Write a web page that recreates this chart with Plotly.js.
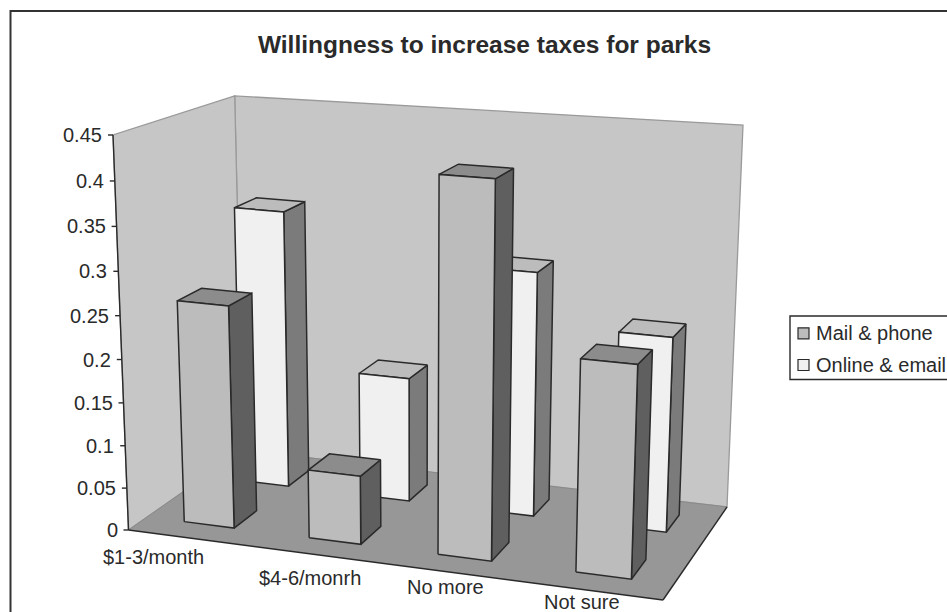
<!DOCTYPE html>
<html>
<head>
<meta charset="utf-8">
<script src="https://cdn.plot.ly/plotly-3.0.1.min.js"></script>
<style>html,body{margin:0;padding:0;background:#fff;overflow:hidden}</style>
</head>
<body>
<div id="chart" style="width:947px;height:612px"></div>
<script>
// Survey results
const categories = ['$1-3/month', '$4-6/monrh', 'No more', 'Not sure'];
const mailPhone = [0.26, 0.08, 0.425, 0.24];
const onlineEmail = [0.335, 0.15, 0.29, 0.23];
const yTicks = [0, 0.05, 0.1, 0.15, 0.2, 0.25, 0.3, 0.35, 0.4, 0.45];
const yTickLabels = ['0', '0.05', '0.1', '0.15', '0.2', '0.25', '0.3', '0.35', '0.4', '0.45'];
const yMax = 0.45;

// Perspective camera: floor homography (unit square to page) plus the vertical vanishing point
const FLOOR = {a: 487.99, b: 142.11, c: 128.5, d: 27.91, e: -28.88, f: 530, g: -0.07015, h: 0.11361};
const VANISH = {x: 417.5, y: 7896, k: -0.1131};

// u runs along the categories, v from front to back of the floor, z is the value
function project(u, v, z) {
  const t = z * VANISH.k;
  const w = FLOOR.g * u + FLOOR.h * v + 1 + t;
  return [
    (FLOOR.a * u + FLOOR.b * v + FLOOR.c + t * VANISH.x) / w,
    (FLOOR.d * u + FLOOR.e * v + FLOOR.f + t * VANISH.y) / w
  ];
}

const INK = '#2a2a2a';
const FONT = 'Liberation Sans, Arial, sans-serif';
const traces = [];

function face(points, fill, line, width) {
  const pts = points.map(p => project(p[0], p[1], p[2]));
  traces.push({
    type: 'scatter', mode: 'lines', fill: 'toself', fillcolor: fill,
    x: pts.map(p => p[0]).concat(pts[0][0]),
    y: pts.map(p => p[1]).concat(pts[0][1]),
    line: {color: line, width: width},
    hoverinfo: 'skip', showlegend: false
  });
}
function edge(a, b, color, width) {
  const pa = project(a[0], a[1], a[2]), pb = project(b[0], b[1], b[2]);
  traces.push({
    type: 'scatter', mode: 'lines', x: [pa[0], pb[0]], y: [pa[1], pb[1]],
    line: {color: color, width: width}, hoverinfo: 'skip', showlegend: false
  });
}

// Walls and floor; the back wall's top edge is trimmed slightly at each end
const WALL = '#c6c6c6', WALL_EDGE = '#9a9a9a';
const TOP_BACK_LEFT = 0.447, TOP_BACK_RIGHT = 0.4535;
face([[0,1,0],[1,1,0],[1,1,TOP_BACK_RIGHT],[0,1,TOP_BACK_LEFT]], WALL, WALL_EDGE, 1.3);
face([[0,0,0],[0,1,0],[0,1,TOP_BACK_LEFT],[0,0,yMax]], WALL, WALL_EDGE, 1.3);
face([[0,0,0],[1,0,0],[1,1,0],[0,1,0]], '#979797', 'rgba(0,0,0,0)', 0);
edge([0,0,0],[0,1,0], '#8a8a8a', 1);
edge([0,1,0],[1,1,0], '#8a8a8a', 1);
edge([0,0,0],[1,0,0], INK, 1.4);
edge([1,0,0],[1,1,0], INK, 1.4);
edge([0,0,0],[0,0,yMax], INK, 1.4);

// One column: right side, top and front, drawn in that order
const HALF_W = 0.05;
const slotNudge = [0, -0.002, -0.005, 0];
function column(index, value, v0, v1, colors) {
  const c = (index + 0.5) / categories.length + slotNudge[index];
  const u0 = c - HALF_W, u1 = c + HALF_W;
  face([[u1,v0,0],[u1,v1,0],[u1,v1,value],[u1,v0,value]], colors.side, INK, 1.5);
  face([[u0,v0,value],[u1,v0,value],[u1,v1,value],[u0,v1,value]], colors.top, INK, 1.5);
  face([[u0,v0,0],[u1,v0,0],[u1,v0,value],[u0,v0,value]], colors.front, INK, 1.5);
}
const ONLINE_COLORS = {front: '#f0f0f0', top: '#bcbcbc', side: '#7b7b7b'};
const MAIL_COLORS = {front: '#bcbcbc', top: '#8c8c8c', side: '#5f5f5f'};
onlineEmail.forEach((val, i) => column(i, val, 0.65, 0.85, ONLINE_COLORS));
mailPhone.forEach((val, i) => column(i, val, 0.15, 0.35, MAIL_COLORS));

// Axis ticks along the front-left edge
const annotations = [];
yTicks.forEach((tick, i) => {
  const p = project(0, 0, tick);
  traces.push({
    type: 'scatter', mode: 'lines', x: [p[0] - 5, p[0]], y: [p[1], p[1]],
    line: {color: INK, width: 1.4}, hoverinfo: 'skip', showlegend: false
  });
  annotations.push({
    x: p[0], y: p[1], xref: 'x', yref: 'y', text: yTickLabels[i], showarrow: false,
    xanchor: 'right', yanchor: 'middle', xshift: -9, yshift: 0,
    font: {family: FONT, size: 20, color: INK}
  });
});

// Category labels, staggered below the front edge
const catShift = [[-38, 19], [-10, 23], [-8, 14.5], [-10, 11]];
categories.forEach((name, i) => {
  const p = project((i + 0.5) / categories.length, 0, 0);
  annotations.push({
    x: p[0], y: p[1], xref: 'x', yref: 'y', text: name, showarrow: false,
    xanchor: 'center', yanchor: 'middle', xshift: catShift[i][0], yshift: -catShift[i][1],
    font: {family: FONT, size: 20, color: INK}
  });
});

// Legend
const legendRows = [
  {name: 'Mail & phone', y: 333.3, color: MAIL_COLORS.front},
  {name: 'Online & email', y: 365, color: ONLINE_COLORS.front}
];
legendRows.forEach(row => {
  traces.push({
    type: 'scatter', mode: 'markers', x: [803.5], y: [row.y], name: row.name,
    marker: {symbol: 'square', size: 11, color: row.color, line: {color: INK, width: 1.2}},
    hoverinfo: 'skip', showlegend: false
  });
  annotations.push({
    x: 813.5, y: row.y, xref: 'x', yref: 'y', text: row.name, showarrow: false,
    xanchor: 'left', yanchor: 'middle', font: {family: FONT, size: 20, color: INK}
  });
});

const layout = {
  width: 947, height: 612,
  margin: {l: 0, r: 0, t: 0, b: 0},
  paper_bgcolor: '#ffffff', plot_bgcolor: '#ffffff',
  showlegend: false,
  title: {
    text: '<b>Willingness to increase taxes for parks</b>',
    x: 0.5116, xref: 'paper', xanchor: 'center',
    y: 0.928, yref: 'paper', yanchor: 'middle',
    font: {family: FONT, size: 24.5, color: INK}
  },
  xaxis: {range: [0, 947], visible: false, fixedrange: true},
  yaxis: {range: [612, 0], visible: false, fixedrange: true},
  annotations: annotations,
  shapes: [
    {type: 'rect', xref: 'x', yref: 'y', x0: 10.5, y0: 11, x1: 1000, y1: 700,
     line: {color: '#333333', width: 2}, fillcolor: 'rgba(0,0,0,0)', layer: 'below'},
    {type: 'rect', xref: 'x', yref: 'y', x0: 790, y0: 316, x1: 1000, y1: 379.5,
     line: {color: INK, width: 1.4}, fillcolor: '#ffffff', layer: 'below'}
  ]
};

Plotly.newPlot('chart', traces, layout, {displayModeBar: false, staticPlot: true});
</script>
</body>
</html>
